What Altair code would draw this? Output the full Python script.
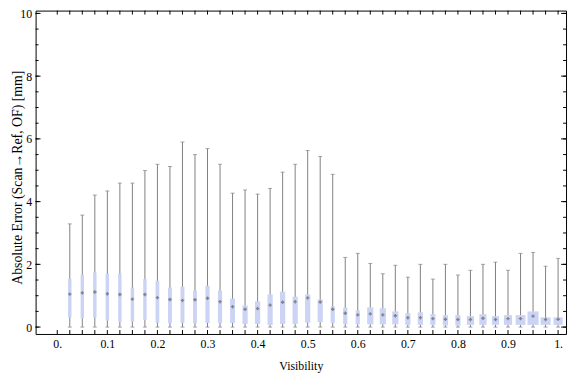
import json
import altair as alt
import pandas as pd

# ---- data ----
visibility = [0.025, 0.05, 0.075, 0.1, 0.125, 0.15, 0.175, 0.2, 0.225, 0.25,
              0.275, 0.3, 0.325, 0.35, 0.375, 0.4, 0.425, 0.45, 0.475, 0.5,
              0.525, 0.55, 0.575, 0.6, 0.625, 0.65, 0.675, 0.7, 0.725, 0.75,
              0.775, 0.8, 0.825, 0.85, 0.875, 0.9, 0.925, 0.95, 0.975, 1.0]
err_min = [0.0] * 40
err_q1 = [0.31, 0.28, 0.31, 0.21, 0.17, 0.17, 0.23, 0.14, 0.13, 0.13,
          0.13, 0.13, 0.13, 0.13, 0.10, 0.10, 0.07, 0.10, 0.10, 0.14,
          0.16, 0.13, 0.09, 0.09, 0.09, 0.09, 0.09, 0.07, 0.07, 0.07,
          0.05, 0.05, 0.07, 0.07, 0.07, 0.07, 0.07, 0.07, 0.07, 0.07]
err_median = [1.05, 1.09, 1.12, 1.06, 1.04, 0.89, 1.04, 0.94, 0.88, 0.85,
              0.87, 0.92, 0.81, 0.65, 0.57, 0.59, 0.70, 0.79, 0.81, 0.93,
              0.80, 0.57, 0.44, 0.39, 0.42, 0.39, 0.36, 0.30, 0.30, 0.27,
              0.25, 0.24, 0.24, 0.28, 0.24, 0.27, 0.27, 0.35, 0.24, 0.25]
err_q3 = [1.54, 1.67, 1.74, 1.70, 1.70, 1.26, 1.53, 1.48, 1.26, 1.29,
          1.16, 1.32, 1.16, 0.91, 0.69, 0.82, 1.04, 1.13, 0.97, 1.04,
          0.88, 0.66, 0.62, 0.53, 0.63, 0.60, 0.50, 0.44, 0.47, 0.41,
          0.38, 0.38, 0.35, 0.41, 0.35, 0.38, 0.38, 0.50, 0.31, 0.31]
err_max = [3.29, 3.57, 4.21, 4.34, 4.59, 4.59, 4.99, 5.19, 5.12, 5.90,
           5.50, 5.69, 5.19, 4.27, 4.37, 4.24, 4.42, 4.94, 5.19, 5.63,
           5.44, 4.87, 2.22, 2.35, 2.03, 1.70, 1.97, 1.59, 2.00, 1.53,
           2.00, 1.66, 1.81, 2.00, 2.07, 1.81, 2.35, 2.38, 1.94, 2.19]
# relative sample weight (box width grows with it)
rel_weight = [35, 35, 35, 35, 35, 35, 35, 38, 40, 40,
              40, 43, 43, 50, 53, 53, 53, 53, 53, 53,
              53, 43, 43, 43, 63, 63, 63, 53, 53, 53,
              53, 53, 73, 73, 73, 83, 100, 113, 103, 93]

x_tick_values = [0, 0.1, 0.2, 0.3, 0.4, 0.5, 0.6, 0.7, 0.8, 0.9, 1.0]
x_tick_labels = ["0.", "0.1", "0.2", "0.3", "0.4", "0.5", "0.6", "0.7", "0.8", "0.9", "1."]
x_minor_ticks = [round(i * 0.025, 3) for i in range(41)]
y_tick_values = [0, 2, 4, 6, 8, 10]
y_minor_ticks = [i * 0.5 for i in range(21)]

x_title = "Visibility"
y_title = "Absolute Error (Scan\u2192Ref, OF) [mm]"

df = pd.DataFrame({
    "vis": visibility, "mn": err_min, "q1": err_q1, "med": err_median,
    "q3": err_q3, "mx": err_max, "w": rel_weight,
})

W, H = 538, 328
FONT = "Liberation Serif"
xs = alt.Scale(domain=[-0.0334, 1.006], nice=False, zero=False)
ys = alt.Scale(domain=[-0.22, 10.09], nice=False, zero=False)

label_expr = json.dumps(x_tick_labels) + "[round(datum.value*10)]"

x_axis = alt.Axis(
    values=x_tick_values, labelExpr=label_expr, ticks=False, domain=False,
    grid=False, title=x_title, labelFont=FONT, labelFontSize=12,
    labelColor="black", labelPadding=5, titleFont=FONT, titleFontSize=12,
    titleFontWeight="normal", titleColor="black", titleY=32,
    titleBaseline="middle")
y_axis = alt.Axis(
    values=y_tick_values, ticks=False, domain=False, grid=False,
    title=y_title, labelFont=FONT, labelFontSize=12, labelColor="black",
    labelPadding=4, titleFont=FONT, titleFontSize=14,
    titleFontWeight="normal", titleColor="black", titleX=-18,
    titleY=H / 2 + 5, titleBaseline="middle", titleAngle=270)


def X(field):
    return alt.X(field, scale=xs, axis=x_axis, title=x_title)


def Y(field):
    return alt.Y(field, scale=ys, axis=y_axis, title=y_title)


base = alt.Chart(df)

whiskers = base.mark_rule(color="#808080", strokeWidth=1).encode(
    x=X("vis:Q"), y=Y("mn:Q"), y2="mx:Q")

cap_top = base.mark_tick(orient="horizontal", size=4, thickness=1, color="#808080").encode(
    x=X("vis:Q"), y=Y("mx:Q"))
cap_bot = base.mark_tick(orient="horizontal", size=4, thickness=1, color="#808080").encode(
    x=X("vis:Q"), y=Y("mn:Q"))

boxes = base.mark_bar(color="#ccd4f5").encode(
    x=X("vis:Q"), y=Y("q1:Q"), y2="q3:Q",
    size=alt.Size("w:Q", scale=alt.Scale(domain=[0, 100], range=[0, 10]), legend=None),
)

medians = base.mark_point(shape="cross", filled=True, size=12, color="#7a7a7a",
                          opacity=0.9).encode(x=X("vis:Q"), y=Y("med:Q"))

xt = alt.Chart(pd.DataFrame({"t": x_minor_ticks}))
yt_major = alt.Chart(pd.DataFrame({"t": y_tick_values}))
yt_minor = alt.Chart(pd.DataFrame({"t": y_minor_ticks}))

tick_style = dict(color="black", strokeWidth=1)
ticks_bottom = xt.mark_rule(**tick_style).encode(
    x=X("t:Q"), y=alt.value(H), y2=alt.value(H - 4))
ticks_top = xt.mark_rule(**tick_style).encode(
    x=X("t:Q"), y=alt.value(0), y2=alt.value(4))
ticks_left_minor = yt_minor.mark_rule(**tick_style).encode(
    y=Y("t:Q"), x=alt.value(0), x2=alt.value(3))
ticks_left_major = yt_major.mark_rule(**tick_style).encode(
    y=Y("t:Q"), x=alt.value(0), x2=alt.value(5))
ticks_right_minor = yt_minor.mark_rule(**tick_style).encode(
    y=Y("t:Q"), x=alt.value(W), x2=alt.value(W - 3))
ticks_right_major = yt_major.mark_rule(**tick_style).encode(
    y=Y("t:Q"), x=alt.value(W), x2=alt.value(W - 5))

chart = alt.layer(
    whiskers, cap_top, cap_bot, boxes, medians,
    ticks_bottom, ticks_top, ticks_left_minor, ticks_left_major,
    ticks_right_minor, ticks_right_major,
).properties(
    width=W, height=H,
    autosize=alt.AutoSizeParams(type="none"),
    padding={"left": 28, "top": 0, "right": 2, "bottom": 41},
    background="white",
).configure_view(stroke="black", strokeWidth=1)

chart.save("out.html", embed_options={"renderer": "svg", "actions": False})
